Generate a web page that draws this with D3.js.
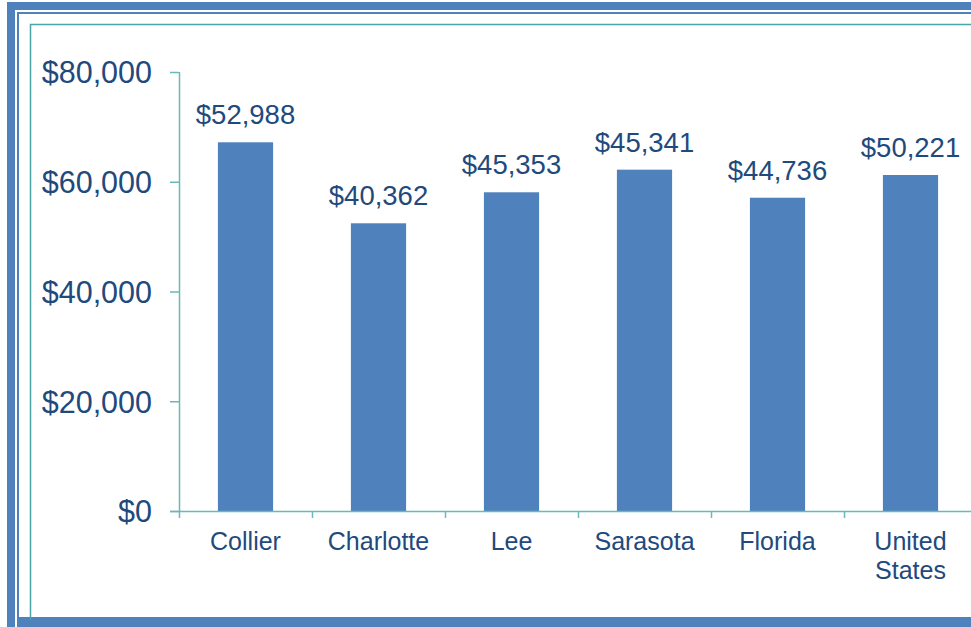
<!DOCTYPE html>
<html>
<head>
<meta charset="utf-8">
<script src="https://cdn.jsdelivr.net/npm/d3@7"></script>
<style>
  body { margin: 0; background: #fff; }
  svg { display: block; font-family: 'Liberation Sans', Arial, sans-serif; }
</style>
</head>
<body>
<svg id="chart" width="971" height="627"></svg>
<script>
// categories and values
var categories = ['Collier', 'Charlotte', 'Lee', 'Sarasota', 'Florida', 'United States']
// bar heights as drawn (they do not match the printed labels in the original)
var barValues = [67190, 52430, 58080, 62200, 57090, 61230]
var labelValues = [52988, 40362, 45353, 45341, 44736, 50221]
var yTicks = [0, 20000, 40000, 60000, 80000]

var svg = d3.select('#chart')
var textColor = '#22497c'
var barColor = '#4f81bd'
var axisColor = '#6cb7b8'

// frame: thick blue band + thin blue line + teal inner box
svg.append('rect').attr('x', 7).attr('y', 2).attr('width', 980).attr('height', 8).attr('fill', barColor)
svg.append('rect').attr('x', 7).attr('y', 2).attr('width', 8).attr('height', 640).attr('fill', barColor)
svg.append('rect').attr('x', 17).attr('y', 617).attr('width', 970).attr('height', 10).attr('fill', barColor)
svg.append('rect').attr('x', 17).attr('y', 12).attr('width', 970).attr('height', 2).attr('fill', barColor)
svg.append('rect').attr('x', 17).attr('y', 12).attr('width', 2).attr('height', 610).attr('fill', barColor)
svg.append('path')
  .attr('d', 'M30.5,620V24.5H980')
  .attr('fill', 'none')
  .attr('stroke', '#4aa5a8')
  .attr('stroke-width', 1.5)

var margin = {left: 179, top: 72}
var plotH = 439
var band = 133

var x = d3.scaleBand()
  .domain(categories)
  .range([0, band * categories.length])
  .paddingInner(0.585)
  .paddingOuter(0.2925)
var y = d3.scaleLinear()
  .domain([0, 80000])
  .range([plotH, 0])

var g = svg.append('g')
  .attr('transform', 'translate(' + margin.left + ',' + margin.top + ')')

// bars
g.selectAll('.bar')
  .data(categories)
  .enter().append('rect')
  .attr('class', 'bar')
  .attr('x', (d) => x(d))
  .attr('y', (d, i) => y(barValues[i]))
  .attr('width', x.bandwidth())
  .attr('height', (d, i) => plotH - y(barValues[i]))
  .attr('fill', barColor)

// value labels
var fmt = d3.format('$,')
g.selectAll('.lbl')
  .data(categories)
  .enter().append('text')
  .attr('class', 'lbl')
  .attr('x', (d) => x(d) + x.bandwidth() / 2)
  .attr('y', (d, i) => y(barValues[i]) - 18)
  .attr('text-anchor', 'middle')
  .attr('fill', textColor)
  .style('font-size', '27.5px')
  .text((d, i) => fmt(labelValues[i]))

// y axis
var yAxis = g.append('g')
  .call(d3.axisLeft(y)
    .tickValues(yTicks)
    .tickFormat(fmt)
    .tickSize(9)
    .tickPadding(18))
yAxis.select('.domain')
  .attr('d', 'M0.5,0V' + (plotH + 7))
  .attr('stroke', axisColor)
  .attr('stroke-width', 1.5)
yAxis.selectAll('.tick line').attr('stroke', axisColor).attr('stroke-width', 1.5)
yAxis.selectAll('.tick text')
  .attr('fill', textColor)
  .style('font-size', '30.5px')
  .attr('dy', '0.36em')

// x axis
var xAxis = g.append('g')
  .attr('transform', 'translate(0,' + plotH + ')')
xAxis.append('line')
  .attr('x1', -9).attr('x2', 820)
  .attr('y1', 0.5).attr('y2', 0.5)
  .attr('stroke', axisColor)
  .attr('stroke-width', 1.5)
xAxis.selectAll('.xt')
  .data(d3.range(1, categories.length + 1))
  .enter().append('line')
  .attr('class', 'xt')
  .attr('x1', (d) => d * band + 0.5)
  .attr('x2', (d) => d * band + 0.5)
  .attr('y1', 0).attr('y2', 7)
  .attr('stroke', axisColor)
  .attr('stroke-width', 1.5)
xAxis.selectAll('.cat')
  .data(categories)
  .enter().append('text')
  .attr('class', 'cat')
  .attr('x', (d) => x(d) + x.bandwidth() / 2)
  .attr('y', 39)
  .attr('text-anchor', 'middle')
  .attr('fill', textColor)
  .style('font-size', '25px')
  .each(function (d) {
    var words = d.split(' ')
    var t = d3.select(this)
    words.forEach(function (w, i) {
      t.append('tspan')
        .attr('x', x(d) + x.bandwidth() / 2)
        .attr('dy', i === 0 ? 0 : 29)
        .text(w)
    })
  })
</script>
</body>
</html>
